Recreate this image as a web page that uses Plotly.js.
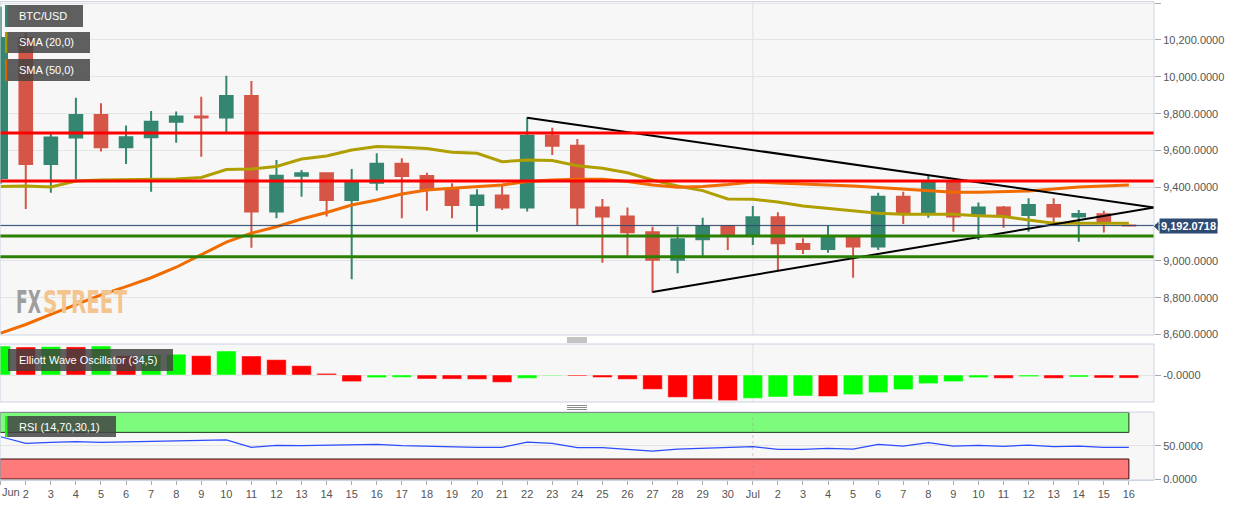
<!DOCTYPE html>
<html>
<head>
<meta charset="utf-8">
<script src="https://cdn.plot.ly/plotly-3.0.1.min.js"></script>
<style>
html,body{margin:0;padding:0;background:#fff;}
#chart{width:1244px;height:506px;}
</style>
</head>
<body>
<div id="chart"></div>
<script>
// ---------------- DATA ----------------
const dates = ['2020-06-01','2020-06-02','2020-06-03','2020-06-04','2020-06-05','2020-06-06','2020-06-07','2020-06-08','2020-06-09','2020-06-10',
  '2020-06-11','2020-06-12','2020-06-13','2020-06-14','2020-06-15','2020-06-16','2020-06-17','2020-06-18','2020-06-19','2020-06-20',
  '2020-06-21','2020-06-22','2020-06-23','2020-06-24','2020-06-25','2020-06-26','2020-06-27','2020-06-28','2020-06-29','2020-06-30',
  '2020-07-01','2020-07-02','2020-07-03','2020-07-04','2020-07-05','2020-07-06','2020-07-07','2020-07-08','2020-07-09','2020-07-10',
  '2020-07-11','2020-07-12','2020-07-13','2020-07-14','2020-07-15','2020-07-16'];
const tickLabels = ['Jun','2','3','4','5','6','7','8','9','10','11','12','13','14','15','16','17','18','19','20','21','22','23','24','25','26','27','28','29','30',
  'Jul','2','3','4','5','6','7','8','9','10','11','12','13','14','15','16'];

const openP  = [9451,10211,9527,9670,9793,9617,9672,9756,9784,9779,9896,9268,9463,9476,9331,9425,9528,9462,9386,9304,9355,9290,9680,9626,9290,9241,9156,9006,9118,9190,
  9141,9237,9092,9065,9129,9078,9349,9259,9427,9250,9290,9250,9304,9241,9254,9193];
const highP  = [10380,10238,9695,9887,9856,9735,9815,9811,9892,10006,9977,9548,9494,9480,9500,9585,9558,9479,9422,9389,9417,9780,9724,9662,9337,9290,9186,9186,9235,9196,
  9299,9264,9123,9190,9135,9371,9376,9467,9444,9317,9299,9341,9341,9277,9273,9194];
const lowP   = [9420,9282,9370,9445,9594,9527,9376,9642,9566,9697,9072,9232,9349,9241,8901,9382,9232,9273,9232,9159,9277,9268,9576,9196,8991,9029,8828,8933,9029,9060,
  9087,8951,9038,9045,8909,9060,9201,9235,9159,9114,9181,9159,9210,9105,9154,9191];
const closeP = [10211,9527,9670,9793,9617,9672,9756,9784,9779,9896,9268,9463,9476,9331,9425,9528,9462,9386,9304,9355,9290,9680,9626,9290,9241,9156,9006,9118,9186,9141,
  9237,9096,9065,9129,9078,9349,9259,9427,9241,9290,9250,9304,9241,9255,9208,9192.0718];

const sma20 = [9404,9407,9402,9434,9440,9443,9445,9445,9453,9497,9500,9513,9554,9570,9603,9622,9618,9611,9590,9585,9539,9548,9545,9517,9503,9479,9440,9407,9382,9337,
  9335,9320,9299,9286,9272,9259,9254,9255,9254,9246,9241,9223,9205,9205,9206,9205];
const sma50 = [8608,8655,8710,8761,8816,8861,8909,8966,9033,9102,9151,9186,9228,9263,9304,9331,9364,9385,9395,9403,9413,9431,9440,9444,9444,9431,9413,9400,9404,9415,
  9429,9423,9418,9415,9407,9399,9391,9380,9373,9373,9375,9380,9391,9402,9407,9413];

const ewo = [580,560,568,562,580,387,410,416,387,480,380,307,187,33,-133,-53,-47,-80,-82,-87,-147,-67,-13,-20,-50,-87,-287,-447,-487,-513,
  -467,-440,-420,-430,-393,-353,-293,-173,-133,-53,-67,-33,-67,-40,-60,-62];
const rsi = [63.5,53.6,55,56,55,55.5,56,56.5,57,58.6,47.6,50.5,50,51,51.5,52,50,49,47.6,47.6,47.6,55.5,53.6,47,47,45,42,45,46,47.6,
  48.5,44.6,44.6,46,45,52,49.5,54.5,49.5,50.5,49,51,48.5,49.5,47.6,47.6];

const resistanceLevels = [9695, 9434];
const supportLevels = [9136, 9023];
const trendUpperX = ['2020-06-22','2020-07-17'];
const trendUpperY = [9778, 9290];
const trendLowerX = ['2020-06-27','2020-07-17'];
const trendLowerY = [8832, 9290];
const rsiLevels = {upper: 70, lower: 30, max: 100, min: 0};
const monthStart = '2020-07-01';
const labels = {price: 'BTC/USD', sma20: 'SMA (20,0)', sma50: 'SMA (50,0)', ewo: 'Elliott Wave Oscillator (34,5)', rsi: 'RSI (14,70,30,1)'};
const watermark = ['FX', 'STREET'];

// ---------------- LAYOUT HELPERS ----------------
const W = 1154, H = 480;
const px = v => v / W;
const py = v => (H - v) / H;
const FONT = 'Liberation Sans, Arial, sans-serif';
const xRange = ['2020-05-31 23:20', '2020-07-17 00:03'];
const lastClose = closeP[closeP.length - 1];
const lastLabel = lastClose.toLocaleString('en-US', {minimumFractionDigits: 4, maximumFractionDigits: 4});

const ewoColors = ewo.map((v, i) => (i === 0 || v >= ewo[i - 1]) ? '#00ff00' : '#ff0000');

const traces = [
  {type: 'candlestick', x: dates, open: openP, high: highP, low: lowP, close: closeP,
   xaxis: 'x', yaxis: 'y', whiskerwidth: 0, hoverinfo: 'skip', showlegend: false,
   increasing: {line: {color: '#348670', width: 2}, fillcolor: '#348670'},
   decreasing: {line: {color: '#d55647', width: 2}, fillcolor: '#d55647'}},
  {type: 'scatter', mode: 'lines', x: dates, y: sma20, xaxis: 'x', yaxis: 'y',
   line: {color: '#b09f00', width: 3}, hoverinfo: 'skip', showlegend: false},
  {type: 'scatter', mode: 'lines', x: dates, y: sma50, xaxis: 'x', yaxis: 'y',
   line: {color: '#f06c00', width: 3}, hoverinfo: 'skip', showlegend: false},
  {type: 'scatter', mode: 'lines', x: trendUpperX, y: trendUpperY, xaxis: 'x', yaxis: 'y',
   line: {color: '#000000', width: 2}, hoverinfo: 'skip', showlegend: false},
  {type: 'scatter', mode: 'lines', x: trendLowerX, y: trendLowerY, xaxis: 'x', yaxis: 'y',
   line: {color: '#000000', width: 2}, hoverinfo: 'skip', showlegend: false},
  {type: 'bar', x: dates, y: ewo, xaxis: 'x', yaxis: 'y2', width: 0.78 * 86400000,
   marker: {color: ewoColors, line: {color: 'rgba(255,255,255,0.45)', width: 1}},
   hoverinfo: 'skip', showlegend: false},
  {type: 'scatter', mode: 'lines', x: dates, y: rsi, xaxis: 'x', yaxis: 'y3',
   line: {color: '#2b4bff', width: 1.2}, hoverinfo: 'skip', showlegend: false}
];

const shapes = [];
// RSI bands
shapes.push({type: 'rect', xref: 'x', yref: 'y3', x0: xRange[0], x1: dates[dates.length - 1], y0: rsiLevels.upper, y1: rsiLevels.max,
  fillcolor: '#7cfb7c', line: {color: '#1c3a1c', width: 1}, layer: 'between'});
shapes.push({type: 'rect', xref: 'x', yref: 'y3', x0: xRange[0], x1: dates[dates.length - 1], y0: rsiLevels.min, y1: rsiLevels.lower,
  fillcolor: '#ff7a7a', line: {color: '#3a0808', width: 1}, layer: 'between'});
// month-start vertical lines
['y domain', 'y2 domain'].forEach(r => shapes.push({type: 'line', xref: 'x', yref: r, x0: monthStart, x1: monthStart, y0: 0, y1: 1,
  line: {color: '#e0e0e0', width: 1}, layer: 'below'}));
shapes.push({type: 'line', xref: 'x', yref: 'y3 domain', x0: monthStart, x1: monthStart, y0: 0, y1: 1,
  line: {color: 'rgba(170,120,120,0.35)', width: 1, dash: 'dot'}, layer: 'above'});
// current price line
shapes.push({type: 'line', xref: 'paper', yref: 'y', x0: 0, x1: 1, y0: lastClose, y1: lastClose,
  line: {color: '#2d4a72', width: 1}, layer: 'above'});
// support / resistance
resistanceLevels.forEach(v => shapes.push({type: 'line', xref: 'paper', yref: 'y', x0: 0, x1: 1, y0: v, y1: v,
  line: {color: '#ff0000', width: 3}, layer: 'above'}));
supportLevels.forEach(v => shapes.push({type: 'line', xref: 'paper', yref: 'y', x0: 0, x1: 1, y0: v, y1: v,
  line: {color: '#2b8000', width: 3}, layer: 'above'}));
// pane borders
[[1.5, 335], [344, 402], [412, 480]].forEach(([t, b]) => shapes.push({type: 'rect', xref: 'paper', yref: 'paper',
  x0: 0, x1: 1, y0: py(b), y1: py(t), line: {color: '#cdd3e1', width: 1}, fillcolor: 'rgba(0,0,0,0)', layer: 'above'}));
// label boxes + accents
const boxes = [
  {x0: 5, x1: 83, t: 5, b: 27, accent: '#2e8b73'},
  {x0: 5, x1: 90, t: 32, b: 53, accent: '#a89b00'},
  {x0: 5, x1: 90, t: 59, b: 81, accent: '#e26200'},
  {x0: 8, x1: 173, t: 349, b: 371, accent: null},
  {x0: 5, x1: 116, t: 416, b: 437, accent: '#22ee22'}
];
boxes.forEach(bx => {
  shapes.push({type: 'rect', xref: 'paper', yref: 'paper', x0: px(bx.x0), x1: px(bx.x1), y0: py(bx.b), y1: py(bx.t),
    fillcolor: 'rgba(66,66,66,0.84)', line: {width: 0}, layer: 'above'});
  if (bx.accent) shapes.push({type: 'rect', xref: 'paper', yref: 'paper', x0: px(bx.x0), x1: px(bx.x0 + 2.5), y0: py(bx.b), y1: py(bx.t),
    fillcolor: bx.accent, line: {width: 0}, layer: 'above'});
});
// pane resize handles
[[338, 340, 342], [405.5, 407.5, 409.5]].forEach(ys => ys.forEach(y => shapes.push({type: 'line', xref: 'paper', yref: 'paper',
  x0: px(567), x1: px(587), y0: py(y), y1: py(y), line: {color: '#8a8a8a', width: 1}, layer: 'above'})));
// price tag pointer
shapes.push({type: 'path', xref: 'paper', yref: 'paper',
  path: `M ${px(1154)} ${py(226.3)} L ${px(1158.5)} ${py(221.5)} L ${px(1158.5)} ${py(231)} Z`,
  fillcolor: '#2d4a72', line: {width: 0}, layer: 'above'});

const annFont = {family: FONT, size: 11, color: '#ffffff'};
const wmFont = c => ({family: 'Liberation Sans Narrow, DejaVu Sans Condensed, Liberation Sans, sans-serif', size: 22, color: c});
const annotations = [
  {xref: 'paper', yref: 'paper', x: px(17), y: py(16), xanchor: 'left', yanchor: 'middle', text: labels.price, showarrow: false, font: annFont},
  {xref: 'paper', yref: 'paper', x: px(17), y: py(42.5), xanchor: 'left', yanchor: 'middle', text: labels.sma20, showarrow: false, font: annFont},
  {xref: 'paper', yref: 'paper', x: px(17), y: py(70), xanchor: 'left', yanchor: 'middle', text: labels.sma50, showarrow: false, font: annFont},
  {xref: 'paper', yref: 'paper', x: px(17), y: py(360), xanchor: 'left', yanchor: 'middle', text: labels.ewo, showarrow: false, font: annFont},
  {xref: 'paper', yref: 'paper', x: px(17), y: py(426.5), xanchor: 'left', yanchor: 'middle', text: labels.rsi, showarrow: false, font: annFont},
  {xref: 'paper', yref: 'y', x: px(1158.5), y: lastClose, xanchor: 'left', yanchor: 'middle', text: '<b>' + lastLabel + '</b>',
   showarrow: false, bgcolor: '#2d4a72', borderpad: 1, font: {family: FONT, size: 11, color: '#ffffff'}},
  {xref: 'paper', yref: 'paper', x: 0, y: py(492), xanchor: 'left', yanchor: 'middle', text: tickLabels[0], showarrow: false,
   font: {family: FONT, size: 11, color: '#555555'}},
  {xref: 'paper', yref: 'paper', x: px(14), y: py(302.5), xanchor: 'left', yanchor: 'middle', borderpad: 0,
   text: '<b>' + watermark[0] + '</b>', showarrow: false, font: wmFont('#9e9e9e')},
  {xref: 'paper', yref: 'paper', x: px(41), y: py(302.5), xanchor: 'left', yanchor: 'middle', borderpad: 0,
   text: '<b>' + watermark[1] + '</b>', showarrow: false, font: wmFont('#f4c48f')}
];

const tickFont = {family: FONT, size: 11, color: '#555555'};
const layout = {
  width: 1244, height: 506,
  margin: {l: 0, r: 90, t: 0, b: 26, pad: 0},
  paper_bgcolor: '#ffffff', plot_bgcolor: '#f7f7f7',
  showlegend: false, hovermode: false, dragmode: false,
  boxgap: 0.28, bargap: 0.2,
  xaxis: {type: 'date', range: xRange, anchor: 'y3', domain: [0, 1],
    tickvals: dates, ticktext: tickLabels.map((t, i) => i === 0 ? '' : t),
    ticks: 'outside', ticklen: 4, tickcolor: '#aaaaaa', tickfont: tickFont,
    showgrid: false, zeroline: false, showline: true, linecolor: '#cdd3e1',
    rangeslider: {visible: false}, fixedrange: true},
  yaxis: {domain: [py(335), py(1.5)], range: [8598, 10409], side: 'right', anchor: 'x',
    tick0: 8600, dtick: 200, tickformat: ',.4f', ticks: 'outside', ticklen: 6, tickcolor: '#aaaaaa',
    tickfont: tickFont, showgrid: true, gridcolor: '#e4e4e4', zeroline: false, showline: false, fixedrange: true},
  yaxis2: {domain: [py(402), py(344)], range: [-540, 620], side: 'right', anchor: 'x',
    tickvals: [0], ticktext: ['-0.0000'], ticks: 'outside', ticklen: 6, tickcolor: '#aaaaaa',
    tickfont: tickFont, showgrid: true, gridcolor: '#e4e4e4', zeroline: false, showline: false, fixedrange: true},
  yaxis3: {domain: [0, py(412)], range: [-1.5, 100.6], side: 'right', anchor: 'x',
    tickvals: [0, 50], ticktext: ['0.0000', '50.0000'], ticks: 'outside', ticklen: 6, tickcolor: '#aaaaaa',
    tickfont: tickFont, showgrid: true, gridcolor: '#e4e4e4', zeroline: false, showline: false, fixedrange: true},
  shapes: shapes,
  annotations: annotations
};

Plotly.newPlot('chart', traces, layout, {displayModeBar: false, staticPlot: true}).then(() => {
  // watermark: fit exact widths and stretch vertically, keeping left edges
  const target = {};
  target[watermark[0]] = {w: 25};
  target[watermark[1]] = {w: 84};
  const k = 1.45;
  document.querySelectorAll('text.annotation-text').forEach(t => {
    const tg = target[t.textContent];
    if (!tg) return;
    const bb = t.getBBox();
    t.setAttribute('text-anchor', 'start');
    t.setAttribute('x', String(bb.x + 1));
    t.setAttribute('textLength', String(tg.w));
    t.setAttribute('lengthAdjust', 'spacingAndGlyphs');
    const cy = bb.y + bb.height * 0.55;
    t.setAttribute('transform', `translate(0 ${cy * (1 - k)}) scale(1 ${k})`);
  });
});
</script>
</body>
</html>
